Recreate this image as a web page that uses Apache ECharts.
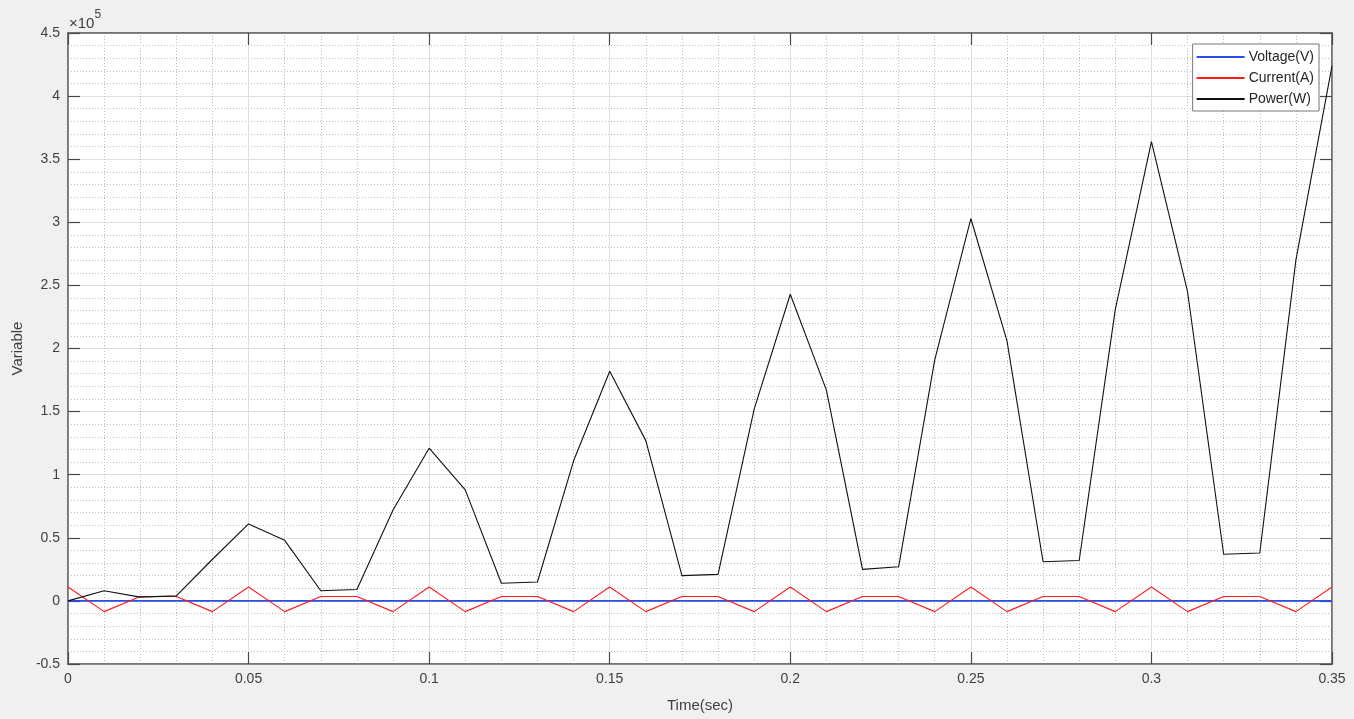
<!DOCTYPE html>
<html>
<head>
<meta charset="utf-8">
<script src="https://cdn.jsdelivr.net/npm/echarts@6/dist/echarts.min.js"></script>
<style>
  html, body { margin: 0; padding: 0; background: #f0f0f0; }
  #main { width: 1354px; height: 719px; }
</style>
</head>
<body>
<div id="main"></div>
<script>
// time samples (sec)
var timeSec = [0, 0.01, 0.02, 0.03, 0.04, 0.05, 0.06, 0.07, 0.08, 0.09,
  0.1, 0.11, 0.12, 0.13, 0.14, 0.15, 0.16, 0.17, 0.18, 0.19,
  0.2, 0.21, 0.22, 0.23, 0.24, 0.25, 0.26, 0.27, 0.28, 0.29,
  0.3, 0.31, 0.32, 0.33, 0.34, 0.35];

var voltageV = [0, 0, 0, 0, 0, 0, 0, 0, 0, 0,
  0, 0, 0, 0, 0, 0, 0, 0, 0, 0,
  0, 0, 0, 0, 0, 0, 0, 0, 0, 0,
  0, 0, 0, 0, 0, 0];

var currentA = [11000, -8500, 3500, 3500, -8500, 11000, -8500, 3500, 3500, -8500,
  11000, -8500, 3500, 3500, -8500, 11000, -8500, 3500, 3500, -8500,
  11000, -8500, 3500, 3500, -8500, 11000, -8500, 3500, 3500, -8500,
  11000, -8500, 3500, 3500, -8500, 11000];

var powerW = [0, 8000, 3000, 4000, 33000, 61000, 48000, 8000, 9000, 72000,
  121000, 88000, 14000, 15000, 111000, 182000, 127000, 20000, 21000, 152000,
  243000, 167000, 25000, 27000, 191000, 303000, 206000, 31000, 32000, 231000,
  364000, 245000, 37000, 38000, 270000, 424000];

var seriesNames = ['Voltage(V)', 'Current(A)', 'Power(W)'];
var seriesColors = ['#2a4ee8', '#ff1a1a', '#111111'];

function pairs(xs, ys) {
  return xs.map(function (x, i) { return [x, ys[i]]; });
}

var myChart = echarts.init(document.getElementById('main'));

var fontName = 'Liberation Sans, Arial, sans-serif';
var tickStyle = { color: '#4a4a4a', width: 1.2 };
var labelStyle = { color: '#404040', fontSize: 14, fontFamily: fontName };
var boxLine = { onZero: false, show: true, lineStyle: { color: '#6e6e6e', width: 1.5 } };
var minorGrid = { show: true, lineStyle: { color: '#bdbdbd', width: 1, type: [1, 2] } };

var option = {
  backgroundColor: '#f0f0f0',
  animation: false,
  grid: {
    left: 68, right: 22, top: 33, bottom: 55,
    show: true,
    backgroundColor: '#ffffff',
    borderColor: '#6e6e6e',
    borderWidth: 1.5
  },
  graphic: [{
    type: 'text',
    left: 69,
    top: 9,
    style: {
      text: '{a|×10}{b|5}',
      rich: {
        a: { fontSize: 15, fill: '#404040', fontFamily: fontName, padding: [7, 0, 0, 0] },
        b: { fontSize: 12, fill: '#404040', fontFamily: fontName, verticalAlign: 'top' }
      }
    }
  }],
  legend: {
    data: seriesNames,
    orient: 'vertical',
    right: 35,
    top: 44,
    icon: 'rect',
    itemWidth: 48,
    itemHeight: 2,
    itemGap: 7,
    padding: [6, 5, 5, 4],
    backgroundColor: '#ffffff',
    borderColor: '#777777',
    borderWidth: 1,
    textStyle: { color: '#262626', fontSize: 14, fontFamily: fontName, padding: [0, 0, 0, -1] }
  },
  xAxis: [{
    type: 'value',
    position: 'bottom',
    min: 0,
    max: 0.35,
    interval: 0.05,
    name: 'Time(sec)',
    nameLocation: 'middle',
    nameGap: 34,
    nameTextStyle: { color: '#404040', fontSize: 15, fontFamily: fontName },
    axisLine: boxLine,
    axisTick: { show: true, inside: true, length: 12, lineStyle: tickStyle },
    axisLabel: Object.assign({ margin: 8 }, labelStyle),
    splitLine: { show: true, lineStyle: { color: '#dedede', width: 1 } },
    minorTick: { show: false, splitNumber: 5 },
    minorSplitLine: minorGrid
  }, {
    type: 'value',
    position: 'top',
    min: 0,
    max: 0.35,
    interval: 0.05,
    axisLine: boxLine,
    axisTick: { show: true, inside: true, length: 12, lineStyle: tickStyle },
    axisLabel: { show: false },
    splitLine: { show: false }
  }],
  yAxis: [{
    type: 'value',
    position: 'left',
    min: -50000,
    max: 450000,
    interval: 50000,
    name: 'Variable',
    nameLocation: 'middle',
    nameGap: 40,
    nameTextStyle: { color: '#404040', fontSize: 15, fontFamily: fontName },
    axisLine: boxLine,
    axisTick: { show: true, inside: true, length: 12, lineStyle: tickStyle },
    axisLabel: Object.assign({
      margin: 8,
      formatter: function (v) { return String(Math.round(v / 1e4) / 10); }
    }, labelStyle),
    splitLine: { show: true, lineStyle: { color: '#dedede', width: 1 } },
    minorTick: { show: false, splitNumber: 5 },
    minorSplitLine: minorGrid
  }, {
    type: 'value',
    position: 'right',
    min: -50000,
    max: 450000,
    interval: 50000,
    axisLine: boxLine,
    axisTick: { show: true, inside: true, length: 12, lineStyle: tickStyle },
    axisLabel: { show: false },
    splitLine: { show: false }
  }],
  series: [{
    name: seriesNames[0],
    type: 'line',
    data: pairs(timeSec, voltageV),
    showSymbol: false,
    color: seriesColors[0],
    lineStyle: { width: 1.6, color: seriesColors[0] },
    z: 3
  }, {
    name: seriesNames[1],
    type: 'line',
    data: pairs(timeSec, currentA),
    showSymbol: false,
    color: seriesColors[1],
    lineStyle: { width: 1.1, color: seriesColors[1] },
    z: 4
  }, {
    name: seriesNames[2],
    type: 'line',
    data: pairs(timeSec, powerW),
    showSymbol: false,
    color: seriesColors[2],
    lineStyle: { width: 1.1, color: seriesColors[2] },
    z: 5
  }]
};

myChart.setOption(option);
</script>
</body>
</html>
